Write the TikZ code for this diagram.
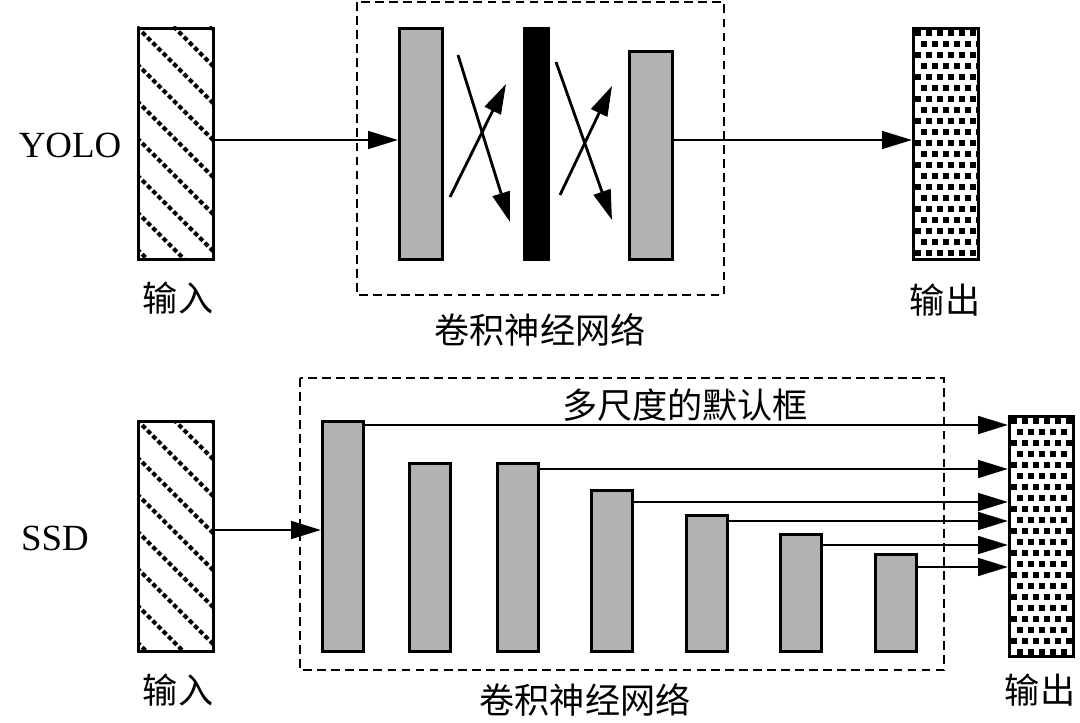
\documentclass[tikz,border=0pt]{standalone}
\usepackage{fontspec}
\setmainfont{Liberation Serif}
\newfontfamily\cjk{Noto Sans CJK SC}
\usetikzlibrary{arrows.meta}
\begin{document}
\begin{tikzpicture}[x=0.02cm,y=-0.02cm,
  lw/.style={line width=1.6pt},
  arr/.style={lw,-{Triangle[length=17pt,width=10pt]}},
  gbar/.style={lw,draw=black,fill=gray!60},
  dbox/.style={lw,dashed,dash pattern=on 5pt off 3pt},
  lbl/.style={font=\fontsize{20}{22}\selectfont\cjk},
  lat/.style={font=\fontsize{21}{22}\selectfont}]
\useasboundingbox (0,0) rectangle (1080,723);
% hatched inputs
\foreach \yt/\yb/\nm in {27/258/inA,420/650/inB}{
  \begin{scope}
    \clip (137,\yt) rectangle (212,\yb);
    \foreach \k in {-3,...,8}
      \draw[line width=2.4pt,dash pattern=on 2.6pt off 1.6pt] (137,\yt+\k*37) -- ++(260,260);
  \end{scope}
  \node[lw,draw,minimum width=1.5cm,minimum height={(\yb-\yt)*0.02cm},inner sep=0,anchor=north west] (\nm) at (137,\yt) {};
}
% dotted outputs
\foreach \xl/\xr/\yt/\yb/\nm in {912/977/27/258/outA,1008/1072/415/655/outB}{
  \begin{scope}
    \clip (\xl,\yt) rectangle (\xr,\yb);
    \foreach \r in {0,...,22}{
      \foreach \c in {0,...,6}{
        \pgfmathsetmacro\off{mod(\r,2)*5.5}
        \fill (\xl+3+\c*11+\off,\yt+3+\r*11) rectangle ++(6,6);
      }}
  \end{scope}
  \node[lw,draw,minimum width={(\xr-\xl)*0.02cm},minimum height={(\yb-\yt)*0.02cm},inner sep=0,anchor=north west] (\nm) at (\xl,\yt) {};
}
% YOLO
\node[lat] (yolo) at (70,145) {YOLO};
\draw[dbox] (357,2) rectangle (724,295);
\node[gbar,anchor=north west,minimum width=0.86cm,minimum height=4.62cm,inner sep=0] (g1) at (398,27) {};
\node[lw,draw,fill=black,anchor=north west,minimum width=0.48cm,minimum height=4.62cm,inner sep=0] (bk) at (523,27) {};
\node[gbar,anchor=north west,minimum width=0.86cm,minimum height=4.16cm,inner sep=0] (g2) at (628,50) {};
\coordinate (a1) at (458,55); \coordinate (a2) at (510,222);
\coordinate (b1) at (450,197); \coordinate (b2) at (506,84);
\coordinate (c1) at (556,62); \coordinate (c2) at (612,220);
\coordinate (d1) at (560,195); \coordinate (d2) at (612,86);
\draw[arr] (a1) -- (a2); \draw[arr] (b1) -- (b2);
\draw[arr] (c1) -- (c2); \draw[arr] (d1) -- (d2);
\draw[arr] (inA.east |- 0,140) -- (g1.west |- 0,140);
\draw[arr] (g2.east |- 0,140) -- (outA.west |- 0,140);
\node[lbl] at (178,298) {输入};
\node[lbl] at (945,300) {输出};
\node[lbl] at (540,330) {卷积神经网络};
% SSD
\node[lat] (ssd) at (55,538) {SSD};
\draw[dbox] (300,378) rectangle (944,670);
\node[lbl] at (685,405) {多尺度的默认框};
\foreach \xl/\yt/\nm in {321/420/s1,408/462/s2,496/462/s3,590/489/s4,685/514/s5,779/533/s6,874/553/s7}{
  \node[gbar,anchor=north west,minimum width=0.83cm,minimum height={(650-\yt)*0.02cm},inner sep=0] (\nm) at (\xl,\yt) {};
}
\foreach \nm/\y in {s1/425,s3/469,s4/502,s5/521,s6/545,s7/567}
  \draw[arr] (\nm.east |- 0,\y) -- (outB.west |- 0,\y);
\draw[arr] (inB.east |- 0,530) -- (s1.west |- 0,530);
\node[lbl] at (178,690) {输入};
\node[lbl] at (1040,690) {输出};
\node[lbl] at (585,700) {卷积神经网络};
\end{tikzpicture}
\end{document}
